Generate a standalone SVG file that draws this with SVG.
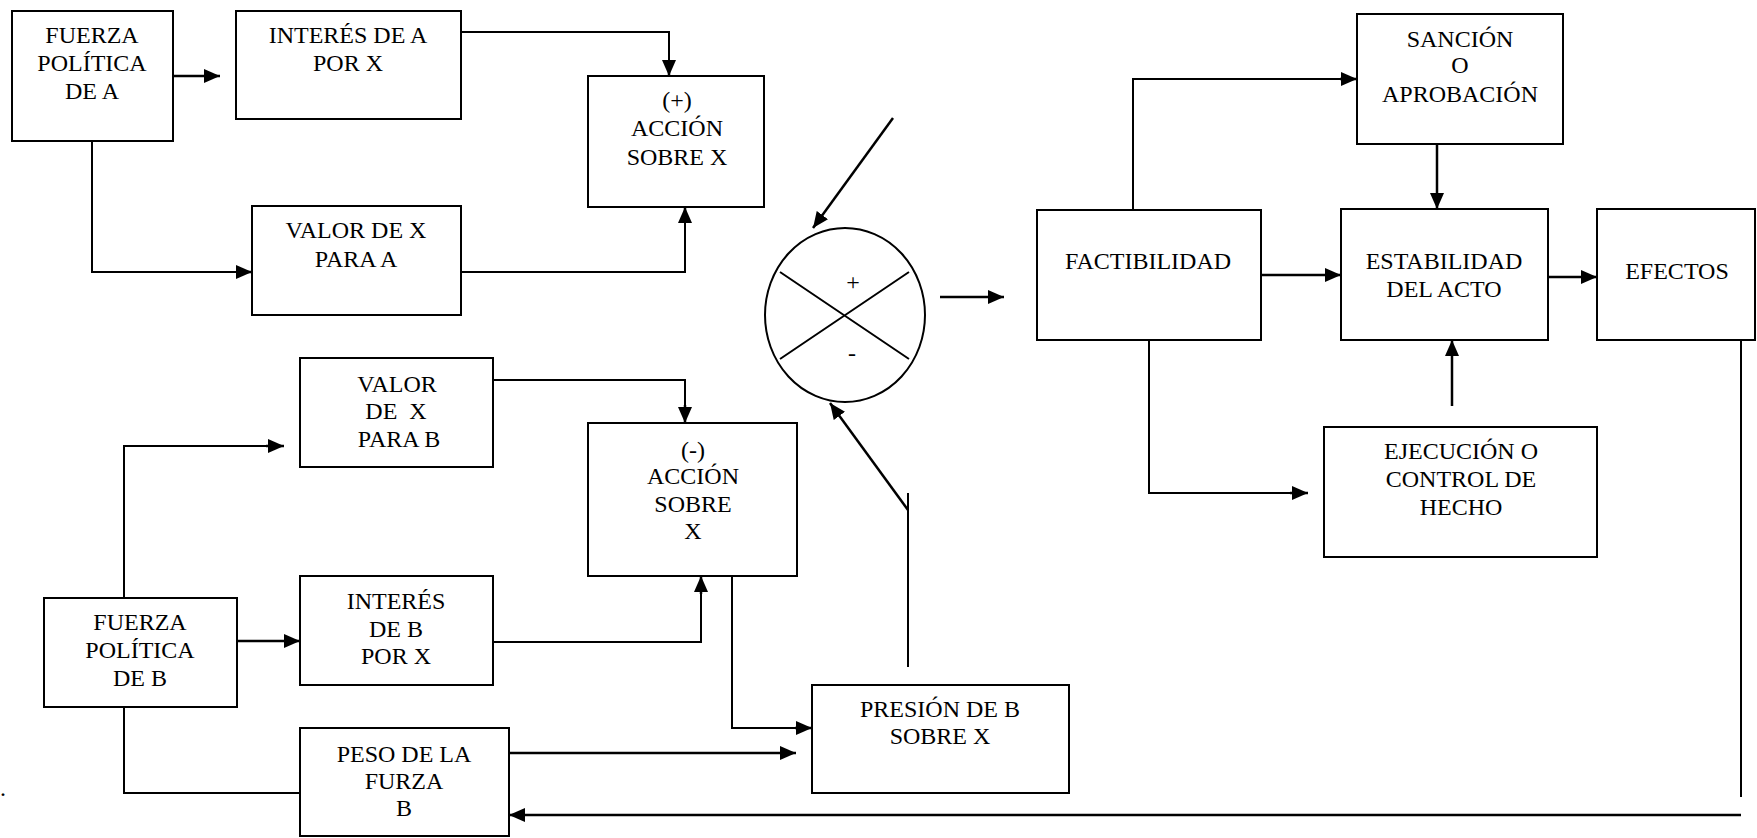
<svg xmlns="http://www.w3.org/2000/svg" width="1757" height="838" viewBox="0 0 1757 838">
<style>
.box{fill:#fff;stroke:#000;stroke-width:2}
.ln{fill:none;stroke:#000;stroke-width:2}
.ar{fill:none;stroke:#000;stroke-width:2.5;marker-end:url(#ah)}
</style>
<defs>
<marker id="ah" markerUnits="userSpaceOnUse" markerWidth="16" markerHeight="14" refX="16" refY="7" orient="auto">
<path d="M0,0 L16,7 L0,14 z" fill="#000"/>
</marker>
</defs>
<rect width="1757" height="838" fill="#fff"/>

<g id="connectors">
<path class="ar" d="M173,76 H220"/>
<path class="ln" d="M92,141 V272 H238"/><path class="ar" d="M236,272 H252"/>
<path class="ln" d="M461,32 H669 V62"/><path class="ar" d="M669,60 V76"/>
<path class="ln" d="M461,272 H685 V220"/><path class="ar" d="M685,222 V207"/>
<path class="ar" d="M893,118 L813,228"/>
<path class="ar" d="M940,297 H1004"/>
<path class="ln" d="M1133,210 V79 H1345"/><path class="ar" d="M1340,79 H1357"/>
<path class="ar" d="M1437,144 V209"/>
<path class="ar" d="M1261,275 H1341"/>
<path class="ar" d="M1548,277 H1597"/>
<path class="ln" d="M1149,340 V493 H1295"/><path class="ar" d="M1290,493 H1308"/>
<path class="ar" d="M1452,406 V340"/>
<path class="ln" d="M1741,340 V797"/>
<path class="ar" d="M1741,815 H509"/>
<path class="ln" d="M124,598 V446 H270"/><path class="ar" d="M266,446 H284"/>
<path class="ar" d="M237,641 H300"/>
<path class="ln" d="M124,707 V793 H300"/>
<path class="ar" d="M509,753 H796"/>
<path class="ln" d="M493,380 H685 V410"/><path class="ar" d="M685,405 V423"/>
<path class="ln" d="M493,642 H701 V590"/><path class="ar" d="M701,594 V576"/>
<path class="ln" d="M732,576 V728 H800"/><path class="ar" d="M795,728 H812"/>
<path class="ln" d="M908,667 V493"/>
<path class="ar" d="M908,510 L830,403"/>
</g>

<g id="fuerza-a"><rect class="box" x="12" y="11" width="161" height="130"/>
<text x="92" y="43" font-family="Liberation Serif" font-size="24" text-anchor="middle" style="font-family:'Liberation Serif'">FUERZA</text>
<text x="92" y="71" font-family="Liberation Serif" font-size="24" text-anchor="middle" style="font-family:'Liberation Serif'">POLÍTICA</text>
<text x="92" y="99" font-family="Liberation Serif" font-size="24" text-anchor="middle" style="font-family:'Liberation Serif'">DE A</text></g>

<g id="interes-a"><rect class="box" x="236" y="11" width="225" height="108"/>
<text x="348" y="43" font-family="Liberation Serif" font-size="24" text-anchor="middle" style="font-family:'Liberation Serif'">INTERÉS DE A</text>
<text x="348" y="71" font-family="Liberation Serif" font-size="24" text-anchor="middle" style="font-family:'Liberation Serif'">POR X</text></g>

<g id="valor-a"><rect class="box" x="252" y="206" width="209" height="109"/>
<text x="356" y="238" font-family="Liberation Serif" font-size="24" text-anchor="middle" style="font-family:'Liberation Serif'">VALOR DE X</text>
<text x="356" y="267" font-family="Liberation Serif" font-size="24" text-anchor="middle" style="font-family:'Liberation Serif'">PARA A</text></g>

<g id="accion-mas"><rect class="box" x="588" y="76" width="176" height="131"/>
<text x="677" y="108" font-family="Liberation Serif" font-size="24" text-anchor="middle" style="font-family:'Liberation Serif'">(+)</text>
<text x="677" y="136" font-family="Liberation Serif" font-size="24" text-anchor="middle" style="font-family:'Liberation Serif'">ACCIÓN</text>
<text x="677" y="165" font-family="Liberation Serif" font-size="24" text-anchor="middle" style="font-family:'Liberation Serif'">SOBRE X</text></g>

<g id="sumador">
<ellipse cx="845" cy="315" rx="80" ry="87" fill="#fff" stroke="#000" stroke-width="2"/>
<path class="ln" d="M780,272 L909,359 M909,272 L780,359"/>
<text x="853" y="290" font-family="Liberation Serif" font-size="24" text-anchor="middle" style="font-family:'Liberation Serif'">+</text>
<text x="852" y="361" font-family="Liberation Serif" font-size="24" text-anchor="middle" style="font-family:'Liberation Serif'">-</text>
</g>

<g id="factibilidad"><rect class="box" x="1037" y="210" width="224" height="130"/>
<text x="1148" y="269" font-family="Liberation Serif" font-size="24" text-anchor="middle" style="font-family:'Liberation Serif'">FACTIBILIDAD</text></g>

<g id="sancion"><rect class="box" x="1357" y="14" width="206" height="130"/>
<text x="1460" y="47" font-family="Liberation Serif" font-size="24" text-anchor="middle" style="font-family:'Liberation Serif'">SANCIÓN</text>
<text x="1460" y="73" font-family="Liberation Serif" font-size="24" text-anchor="middle" style="font-family:'Liberation Serif'">O</text>
<text x="1460" y="102" font-family="Liberation Serif" font-size="24" text-anchor="middle" style="font-family:'Liberation Serif'">APROBACIÓN</text></g>

<g id="estabilidad"><rect class="box" x="1341" y="209" width="207" height="131"/>
<text x="1444" y="269" font-family="Liberation Serif" font-size="24" text-anchor="middle" style="font-family:'Liberation Serif'">ESTABILIDAD</text>
<text x="1444" y="297" font-family="Liberation Serif" font-size="24" text-anchor="middle" style="font-family:'Liberation Serif'">DEL ACTO</text></g>

<g id="efectos"><rect class="box" x="1597" y="209" width="158" height="131"/>
<text x="1677" y="279" font-family="Liberation Serif" font-size="24" text-anchor="middle" style="font-family:'Liberation Serif'">EFECTOS</text></g>

<g id="ejecucion"><rect class="box" x="1324" y="427" width="273" height="130"/>
<text x="1461" y="459" font-family="Liberation Serif" font-size="24" text-anchor="middle" style="font-family:'Liberation Serif'">EJECUCIÓN O</text>
<text x="1461" y="487" font-family="Liberation Serif" font-size="24" text-anchor="middle" style="font-family:'Liberation Serif'">CONTROL DE</text>
<text x="1461" y="515" font-family="Liberation Serif" font-size="24" text-anchor="middle" style="font-family:'Liberation Serif'">HECHO</text></g>

<g id="valor-b"><rect class="box" x="300" y="358" width="193" height="109"/>
<text x="397" y="392" font-family="Liberation Serif" font-size="24" text-anchor="middle" style="font-family:'Liberation Serif'">VALOR</text>
<text x="396" y="419" font-family="Liberation Serif" font-size="24" text-anchor="middle" style="font-family:'Liberation Serif';white-space:pre" xml:space="preserve">DE  X</text>
<text x="399" y="447" font-family="Liberation Serif" font-size="24" text-anchor="middle" style="font-family:'Liberation Serif'">PARA B</text></g>

<g id="accion-menos"><rect class="box" x="588" y="423" width="209" height="153"/>
<text x="693" y="458" font-family="Liberation Serif" font-size="24" text-anchor="middle" style="font-family:'Liberation Serif'">(-)</text>
<text x="693" y="484" font-family="Liberation Serif" font-size="24" text-anchor="middle" style="font-family:'Liberation Serif'">ACCIÓN</text>
<text x="693" y="512" font-family="Liberation Serif" font-size="24" text-anchor="middle" style="font-family:'Liberation Serif'">SOBRE</text>
<text x="693" y="539" font-family="Liberation Serif" font-size="24" text-anchor="middle" style="font-family:'Liberation Serif'">X</text></g>

<g id="fuerza-b"><rect class="box" x="44" y="598" width="193" height="109"/>
<text x="140" y="630" font-family="Liberation Serif" font-size="24" text-anchor="middle" style="font-family:'Liberation Serif'">FUERZA</text>
<text x="140" y="658" font-family="Liberation Serif" font-size="24" text-anchor="middle" style="font-family:'Liberation Serif'">POLÍTICA</text>
<text x="140" y="686" font-family="Liberation Serif" font-size="24" text-anchor="middle" style="font-family:'Liberation Serif'">DE B</text></g>

<g id="interes-b"><rect class="box" x="300" y="576" width="193" height="109"/>
<text x="396" y="609" font-family="Liberation Serif" font-size="24" text-anchor="middle" style="font-family:'Liberation Serif'">INTERÉS</text>
<text x="396" y="637" font-family="Liberation Serif" font-size="24" text-anchor="middle" style="font-family:'Liberation Serif'">DE B</text>
<text x="396" y="664" font-family="Liberation Serif" font-size="24" text-anchor="middle" style="font-family:'Liberation Serif'">POR X</text></g>

<g id="peso-b"><rect class="box" x="300" y="728" width="209" height="108"/>
<text x="404" y="762" font-family="Liberation Serif" font-size="24" text-anchor="middle" style="font-family:'Liberation Serif'">PESO DE LA</text>
<text x="404" y="789" font-family="Liberation Serif" font-size="24" text-anchor="middle" style="font-family:'Liberation Serif'">FURZA</text>
<text x="404" y="816" font-family="Liberation Serif" font-size="24" text-anchor="middle" style="font-family:'Liberation Serif'">B</text></g>

<g id="presion-b"><rect class="box" x="812" y="685" width="257" height="108"/>
<text x="940" y="717" font-family="Liberation Serif" font-size="24" text-anchor="middle" style="font-family:'Liberation Serif'">PRESIÓN DE B</text>
<text x="940" y="744" font-family="Liberation Serif" font-size="24" text-anchor="middle" style="font-family:'Liberation Serif'">SOBRE X</text></g>

<text x="3" y="796" font-family="Liberation Serif" font-size="24" text-anchor="middle" style="font-family:'Liberation Serif'">.</text>
</svg>
